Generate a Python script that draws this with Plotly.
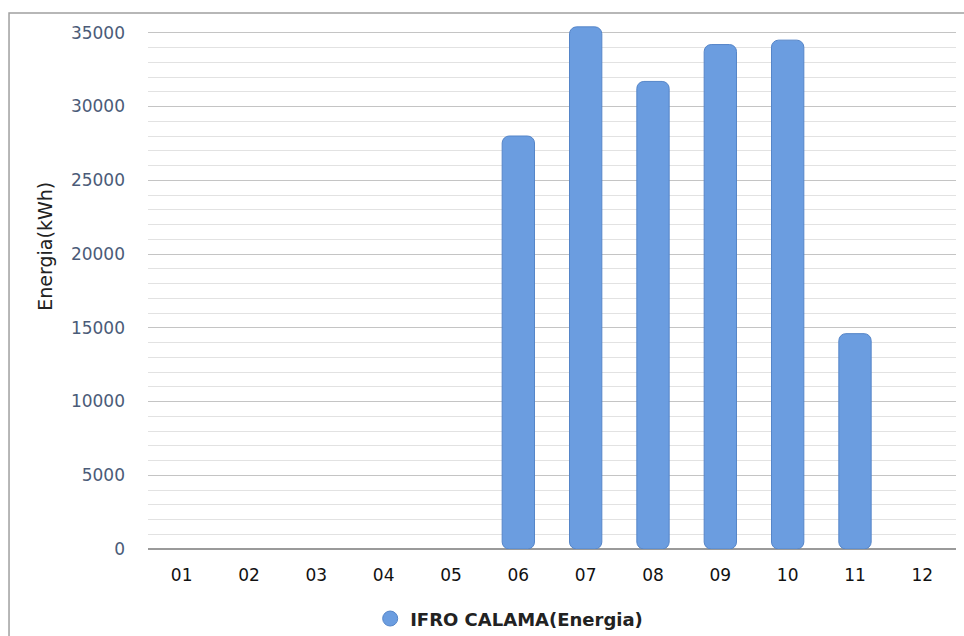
import plotly.graph_objects as go

# Monthly energy, IFRO CALAMA
months = ["01", "02", "03", "04", "05", "06", "07", "08", "09", "10", "11", "12"]
energy_kwh = [0, 0, 0, 0, 0, 28000, 35400, 31700, 34200, 34500, 14600, 0]
series_name = "IFRO CALAMA(Energia)"
y_ticks = [0, 5000, 10000, 15000, 20000, 25000, 30000, 35000]

bar_fill = "#6b9de0"
bar_edge = "#5585c8"

fig = go.Figure()

shown = [m for m, v in zip(months, energy_kwh) if v > 0]
shown_vals = [v for v in energy_kwh if v > 0]

fig.add_trace(go.Bar(
    x=shown, y=shown_vals, base=[0] * len(shown_vals),
    marker=dict(color=bar_fill, line=dict(color=bar_edge, width=1), cornerradius=7),
    width=0.48, showlegend=False, name=series_name,
))

# legend entry with a round marker
fig.add_trace(go.Scatter(
    x=[None], y=[None], mode="markers", name=series_name,
    marker=dict(symbol="circle", size=15, color=bar_fill, line=dict(color=bar_edge, width=1)),
))

fig.update_layout(
    width=964, height=636,
    margin=dict(l=148, r=8, t=18, b=87, autoexpand=False),
    paper_bgcolor="white", plot_bgcolor="white",
    barmode="overlay",
    font=dict(family="DejaVu Sans", size=17, color="#222222"),
    showlegend=True,
    legend=dict(
        orientation="h", x=0.447, xanchor="center",
        yref="container", y=0.027, yanchor="middle",
        font=dict(family="DejaVu Sans", size=18, color="#222222", weight="bold"),
        itemwidth=30,
    ),
    xaxis=dict(
        type="category", categoryorder="array", categoryarray=months,
        tickmode="array", tickvals=months, ticktext=months,
        range=[-0.5, 11.5],
        showgrid=False, showline=False, ticks="", zeroline=False,
        tickfont=dict(size=17, color="#111111"),
        ticklabelstandoff=14,
    ),
    yaxis=dict(
        range=[0, 36000],
        tickmode="array", tickvals=y_ticks, ticktext=[str(t) for t in y_ticks],
        showgrid=True, gridcolor="#c4c4c4", gridwidth=1,
        minor=dict(dtick=1000, showgrid=True, gridcolor="#e2e2e2", gridwidth=1, tick0=0),
        zeroline=True, zerolinecolor="#9a9a9a", zerolinewidth=1.5,
        showline=False, ticks="",
        tickfont=dict(size=17, color="#4b5b78"),
        ticklabelstandoff=22,
    ),
    annotations=[dict(
        text="Energia(kWh)", textangle=-90,
        xref="paper", yref="paper", x=-0.127, y=0.57,
        xanchor="center", yanchor="middle", showarrow=False,
        font=dict(family="DejaVu Sans", size=19, color="#222222"),
    )],
    shapes=[dict(
        type="rect", xref="paper", yref="paper",
        x0=-0.172, x1=1.05, y0=-0.2, y1=1.0094,
        line=dict(color="#a0a0a0", width=1.5), fillcolor="rgba(0,0,0,0)", layer="below",
    )],
)

fig.write_html("out.html")
